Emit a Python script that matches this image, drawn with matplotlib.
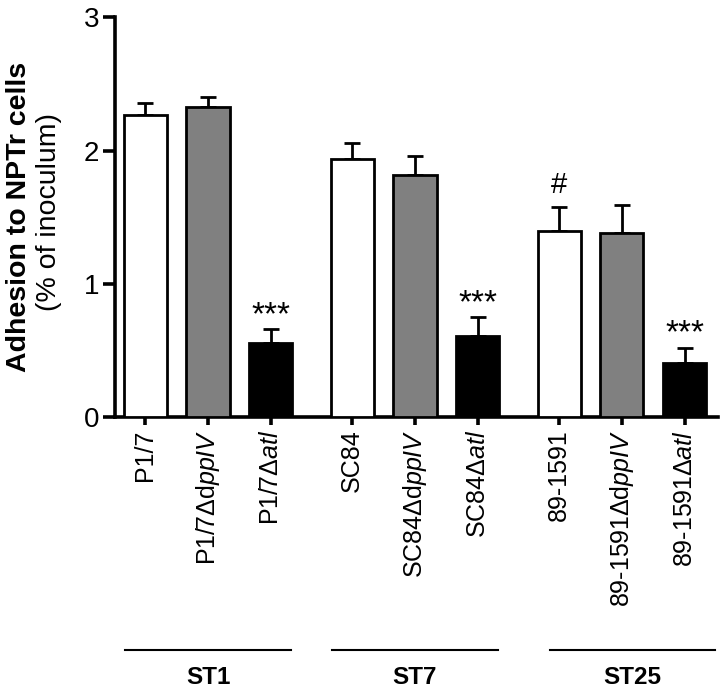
import numpy as np
import matplotlib
matplotlib.use("Agg")
import matplotlib.pyplot as plt
import matplotlib.transforms as mtransforms

plt.rcParams['font.family'] = ['Liberation Sans', 'DejaVu Sans']
plt.rcParams['mathtext.fontset'] = 'custom'
plt.rcParams['mathtext.rm'] = 'Liberation Sans'
plt.rcParams['mathtext.it'] = 'Liberation Sans:italic'

# data
strains = ['P1/7', r'P1/7$\Delta$d$\it{ppIV}$', r'P1/7$\Delta$$\it{atl}$',
           'SC84', r'SC84$\Delta$d$\it{ppIV}$', r'SC84$\Delta$$\it{atl}$',
           '89-1591', r'89-1591$\Delta$d$\it{ppIV}$', r'89-1591$\Delta$$\it{atl}$']
adhesion = [2.27, 2.33, 0.56, 1.94, 1.82, 0.61, 1.40, 1.38, 0.41]
sem = [0.09, 0.07, 0.10, 0.12, 0.14, 0.14, 0.18, 0.21, 0.11]
marks = ['', '', '***', '', '', '***', '#', '', '***']
groups = ['ST1', 'ST7', 'ST25']

colors = ['white', '#808080', 'black'] * 3
pos = np.array([0, 1, 2, 3.3, 4.3, 5.3, 6.6, 7.6, 8.6])

fig = plt.figure(figsize=(7.25, 6.93), dpi=100)
ax = fig.add_axes([0.159, 0.398, 0.831, 0.577])

ax.bar(pos, adhesion, width=0.69, color=colors, edgecolor='black', linewidth=2, zorder=3)
ax.errorbar(pos, adhesion, yerr=[np.zeros(len(sem)), sem], fmt='none',
            ecolor='black', elinewidth=2, capsize=6, capthick=2, zorder=2)

# significance marks
for x, y, e, m in zip(pos, adhesion, sem, marks):
    if m == '***':
        ax.text(x, y + e + 0.04, m, ha='center', va='baseline', fontsize=24)
    elif m:
        ax.text(x, y + e + 0.1, m, ha='center', va='baseline', fontsize=21)

ax.set_xlim(-0.48, 9.13)
ax.set_ylim(0, 3)
ax.set_yticks([0, 1, 2, 3])
ax.set_xticks(pos)
ax.set_xticklabels(strains, rotation=90, fontsize=18, va='top', ha='center')
ax.tick_params(axis='y', labelsize=20, width=2.6, length=8.5, direction='out', pad=3)
ax.tick_params(axis='x', width=2.6, length=6, direction='out', pad=3)
for s in ['top', 'right']:
    ax.spines[s].set_visible(False)
for s in ['left', 'bottom']:
    ax.spines[s].set_linewidth(2.6)

fig.text(0.026, 0.687, 'Adhesion to NPTr cells', rotation=90, ha='center', va='center',
         fontsize=20.5, fontweight='bold')
fig.text(0.067, 0.694, '(% of inoculum)', rotation=90, ha='center', va='center', fontsize=20.5)

# group lines and labels
trans = mtransforms.blended_transform_factory(ax.transData, ax.transAxes)
shift = [0, 0, 0.17]
for g, c, d in zip(groups, [pos[1], pos[4], pos[7]], shift):
    ax.plot([c + d - 1.32, c + d + 1.32], [-0.582, -0.582], color='black', lw=1.5,
            transform=trans, clip_on=False)
    ax.text(c + d, -0.652, g, transform=trans, ha='center', va='center',
            fontsize=17.5, fontweight='bold')

fig.savefig('out.png', dpi=100)
